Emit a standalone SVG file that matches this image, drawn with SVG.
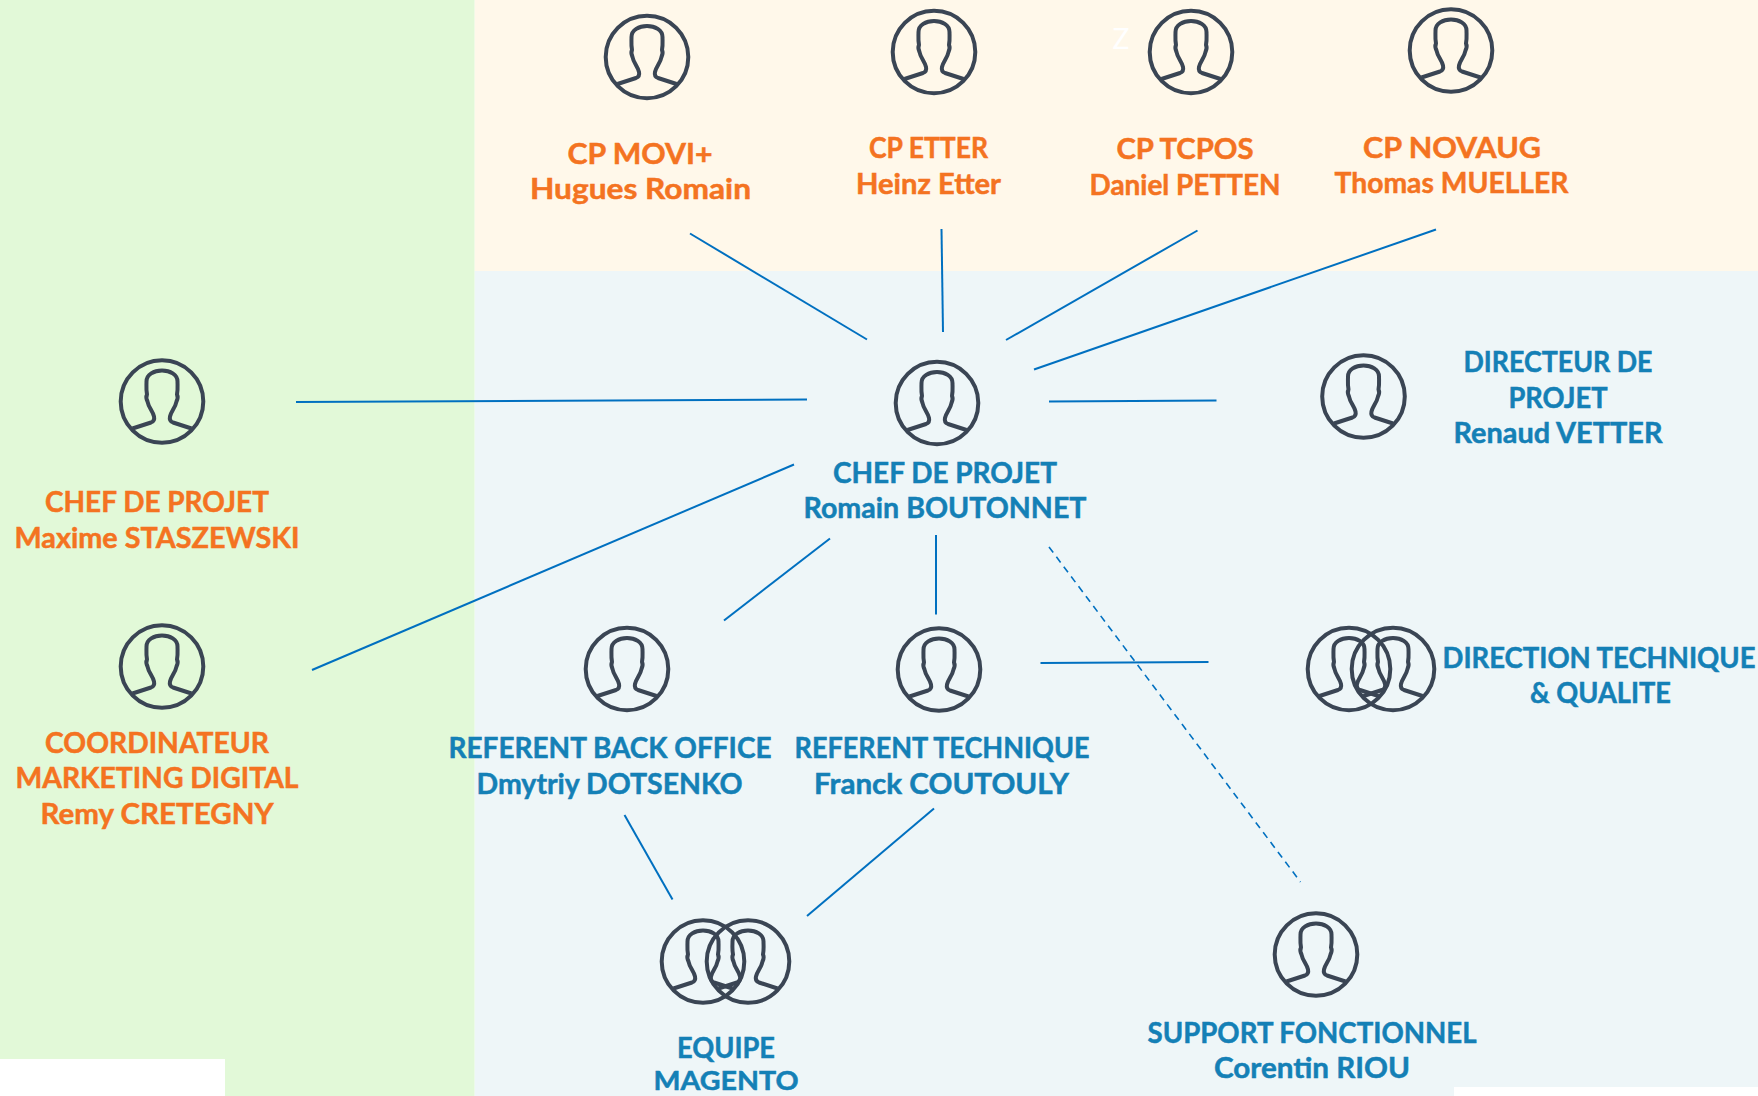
<svg xmlns="http://www.w3.org/2000/svg" width="1758" height="1096" viewBox="0 0 1758 1096">
<style>
text{font-family:"Lato","Liberation Sans",sans-serif;font-weight:700;font-size:29px;text-anchor:middle;stroke-width:.5px}
.o{fill:#F47321;stroke:#F47321}
.b{fill:#1480B6;stroke:#1480B6}
.icon{fill:none;stroke:#3A4554;stroke-width:4;stroke-linejoin:round}
.c line{stroke:#0070C0;stroke-width:2}
.c line.d{stroke-width:1.6;stroke-dasharray:7 5.3}
</style>
<defs>
<g id="p" class="icon">
<circle r="41.3"/>
<path d="M-29.5,27 L-11,21 Q-7,19.5 -8,15 C-9,10 -13.5,6 -14.5,0 Q-16.5,-4 -15,-7 C-16,-12 -15.5,-16 -15.5,-20 C-15.5,-27 -8,-31 0,-31 C8,-31 15.5,-27 15.5,-20 C15.5,-16 16,-12 15,-7 Q16.5,-4 14.5,0 C13.5,6 9,10 8,15 Q7,19.5 11,21 L29.5,27"/>
</g>
</defs>
<rect width="1758" height="1096" fill="#fff"/>
<rect x="474.5" y="0" width="1283.5" height="271" fill="#FFF8EA"/>
<rect x="474.5" y="271" width="1283.5" height="816" fill="#EEF6F8"/>
<rect x="474.5" y="1087" width="979.5" height="9" fill="#EEF6F8"/>
<rect x="0" y="0" width="474.5" height="1059" fill="#E2F9D8"/>
<rect x="225" y="1059" width="249.5" height="37" fill="#E2F9D8"/>
<text x="1121" y="49" style="fill:#fff;stroke:none;font-weight:400;font-size:28px">Z</text>
<g id="connectors" class="c">
<line x1="690" y1="233.500" x2="867" y2="339.500"/>
<line x1="941.500" y1="229" x2="943" y2="332"/>
<line x1="1197.500" y1="230.500" x2="1006" y2="340"/>
<line x1="1436" y1="229.500" x2="1034" y2="369.500"/>
<line x1="1049" y1="401.500" x2="1216.500" y2="400.500"/>
<line x1="296" y1="402" x2="807" y2="399.500"/>
<line x1="794" y1="464.500" x2="312" y2="670"/>
<line x1="830" y1="538.500" x2="724" y2="620.500"/>
<line x1="936" y1="535" x2="936" y2="614.500"/>
<line class="d" x1="1049" y1="547" x2="1300.500" y2="882"/>
<line x1="1040.500" y1="663" x2="1208.500" y2="662"/>
<line x1="624.500" y1="815" x2="672.500" y2="899.500"/>
<line x1="934" y1="808.500" x2="807" y2="916"/>
</g>
<g id="cp-movi"><use href="#p" x="647" y="57"/><text class="o" x="640" y="163.700" textLength="145" lengthAdjust="spacingAndGlyphs">CP MOVI+</text><text class="o" x="640.500" y="198.700" textLength="221" lengthAdjust="spacingAndGlyphs">Hugues Romain</text></g>
<g id="cp-etter"><use href="#p" x="934" y="52"/><text class="o" x="928.500" y="157.700" textLength="119" lengthAdjust="spacingAndGlyphs">CP ETTER</text><text class="o" x="928.500" y="193.700" textLength="145" lengthAdjust="spacingAndGlyphs">Heinz Etter</text></g>
<g id="cp-tcpos"><use href="#p" x="1191" y="52"/><text class="o" x="1185" y="158.700" textLength="137" lengthAdjust="spacingAndGlyphs">CP TCPOS</text><text class="o" x="1185" y="194.700" textLength="191" lengthAdjust="spacingAndGlyphs">Daniel PETTEN</text></g>
<g id="cp-novaug"><use href="#p" x="1451" y="50.500"/><text class="o" x="1452" y="157.700" textLength="178" lengthAdjust="spacingAndGlyphs">CP NOVAUG</text><text class="o" x="1451.500" y="192.700" textLength="234" lengthAdjust="spacingAndGlyphs">Thomas MUELLER</text></g>
<g id="chef-romain"><use href="#p" x="937" y="403"/><text class="b" x="945" y="482.700" textLength="224" lengthAdjust="spacingAndGlyphs">CHEF DE PROJET</text><text class="b" x="945" y="517.700" textLength="283" lengthAdjust="spacingAndGlyphs">Romain BOUTONNET</text></g>
<g id="directeur"><use href="#p" x="1363.500" y="396.500"/><text class="b" x="1558" y="371.700" textLength="189" lengthAdjust="spacingAndGlyphs">DIRECTEUR DE</text><text class="b" x="1558" y="407.700" textLength="99" lengthAdjust="spacingAndGlyphs">PROJET</text><text class="b" x="1558" y="442.700" textLength="209" lengthAdjust="spacingAndGlyphs">Renaud VETTER</text></g>
<g id="chef-maxime"><use href="#p" x="162" y="401.500"/><text class="o" x="157" y="511.700" textLength="224" lengthAdjust="spacingAndGlyphs">CHEF DE PROJET</text><text class="o" x="157" y="547.700" textLength="285" lengthAdjust="spacingAndGlyphs">Maxime STASZEWSKI</text></g>
<g id="coordinateur"><use href="#p" x="162" y="666.500"/><text class="o" x="157" y="752.700" textLength="224" lengthAdjust="spacingAndGlyphs">COORDINATEUR</text><text class="o" x="157" y="787.700" textLength="283" lengthAdjust="spacingAndGlyphs">MARKETING DIGITAL</text><text class="o" x="157" y="823.700" textLength="233" lengthAdjust="spacingAndGlyphs">Remy CRETEGNY</text></g>
<g id="referent-back"><use href="#p" x="627" y="669"/><text class="b" x="610" y="757.700" textLength="323" lengthAdjust="spacingAndGlyphs">REFERENT BACK OFFICE</text><text class="b" x="609.500" y="793.700" textLength="266" lengthAdjust="spacingAndGlyphs">Dmytriy DOTSENKO</text></g>
<g id="referent-tech"><use href="#p" x="939" y="669.500"/><text class="b" x="942" y="757.700" textLength="295" lengthAdjust="spacingAndGlyphs">REFERENT TECHNIQUE</text><text class="b" x="941.500" y="793.700" textLength="255" lengthAdjust="spacingAndGlyphs">Franck COUTOULY</text></g>
<g id="direction-technique"><use href="#p" x="1349" y="669"/><use href="#p" x="1393" y="669"/><text class="b" x="1599" y="667.700" textLength="313" lengthAdjust="spacingAndGlyphs" style="font-size:28px">DIRECTION TECHNIQUE</text><text class="b" x="1600.500" y="702.700" textLength="141" lengthAdjust="spacingAndGlyphs">&amp; QUALITE</text></g>
<g id="equipe-magento"><use href="#p" x="703" y="961.500"/><use href="#p" x="748" y="961.500"/><text class="b" x="726" y="1057.700" textLength="98" lengthAdjust="spacingAndGlyphs">EQUIPE</text><text class="b" x="726" y="1090.400" textLength="145" lengthAdjust="spacingAndGlyphs" style="font-size:26.5px">MAGENTO</text></g>
<g id="support"><use href="#p" x="1316" y="954.500"/><text class="b" x="1312" y="1042.700" textLength="329" lengthAdjust="spacingAndGlyphs">SUPPORT FONCTIONNEL</text><text class="b" x="1312" y="1077.700" textLength="196" lengthAdjust="spacingAndGlyphs">Corentin RIOU</text></g>
</svg>
